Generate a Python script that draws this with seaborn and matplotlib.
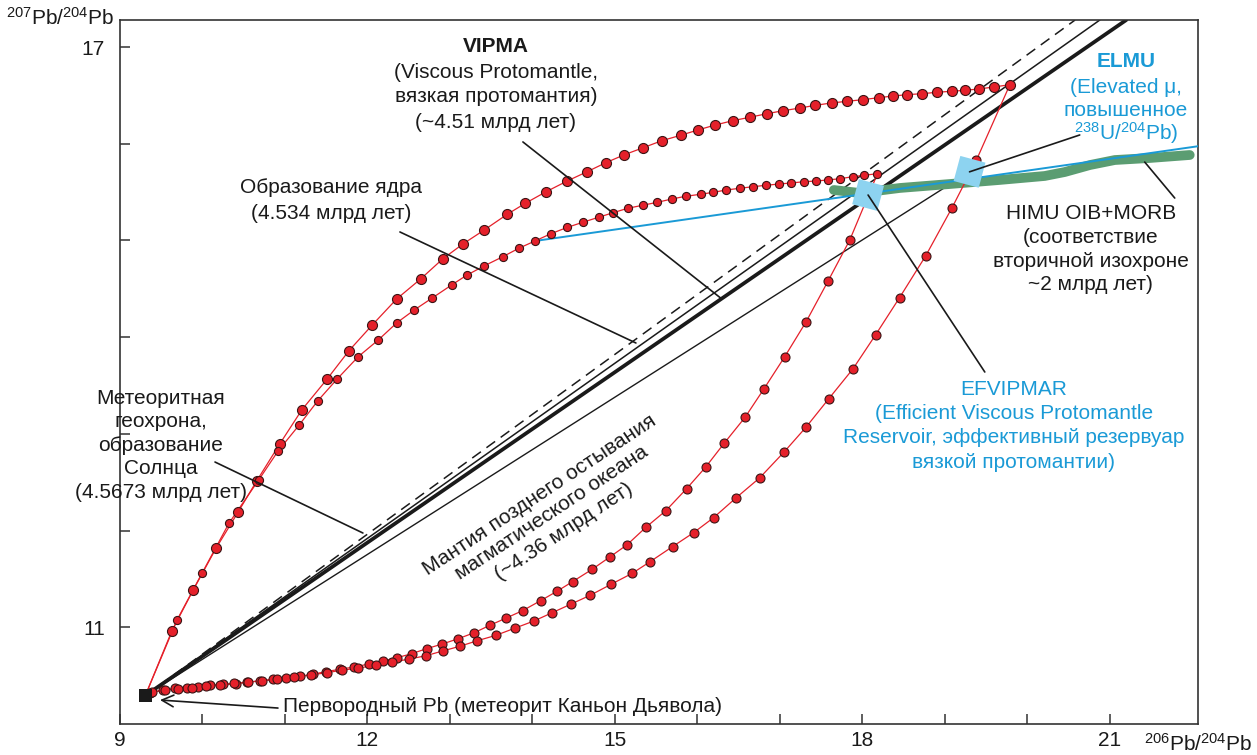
import numpy as np
import pandas as pd
import matplotlib
matplotlib.use("Agg")
import matplotlib.pyplot as plt
import seaborn as sns

# ---------------- data ----------------
prim_x, prim_y = 9.307, 10.294   # Canyon Diablo primordial Pb

# VIPMA growth curve (outer arc)
a_x = [9.307, 9.630, 9.888, 10.164, 10.430, 10.657, 10.939, 11.206, 11.509, 11.776, 12.055, 12.354,
       12.645, 12.912, 13.158, 13.417, 13.695, 13.915, 14.161, 14.422, 14.663, 14.892, 15.116, 15.345,
       15.570, 15.798, 16.008, 16.216, 16.430, 16.636, 16.842, 17.040, 17.246, 17.430, 17.628, 17.812,
       18.005, 18.201, 18.377, 18.543, 18.726, 18.910, 19.085, 19.246, 19.417, 19.592, 19.789]
a_y = [10.294, 10.965, 11.386, 11.817, 12.189, 12.513, 12.899, 13.250, 13.565, 13.860, 14.123, 14.395,
       14.602, 14.809, 14.964, 15.109, 15.271, 15.385, 15.502, 15.615, 15.711, 15.805, 15.887, 15.960,
       16.032, 16.088, 16.143, 16.194, 16.239, 16.274, 16.311, 16.342, 16.370, 16.398, 16.422, 16.439,
       16.456, 16.477, 16.494, 16.508, 16.518, 16.533, 16.543, 16.553, 16.567, 16.587, 16.611]

# inner arc
b_x = [9.307, 9.691, 9.998, 10.321, 10.681, 10.919, 11.170, 11.396, 11.630, 11.888, 12.131, 12.358,
       12.567, 12.785, 13.021, 13.202, 13.412, 13.641, 13.834, 14.032, 14.224, 14.425, 14.610, 14.802,
       14.982, 15.156, 15.336, 15.515, 15.691, 15.857, 16.040, 16.193, 16.349, 16.515, 16.673, 16.834,
       16.992, 17.139, 17.296, 17.439, 17.583, 17.731, 17.887, 18.022, 18.184]
b_y = [10.294, 11.075, 11.565, 12.076, 12.523, 12.826, 13.089, 13.340, 13.565, 13.798, 13.971, 14.150,
       14.281, 14.405, 14.540, 14.640, 14.736, 14.832, 14.919, 14.995, 15.070, 15.136, 15.188, 15.240,
       15.288, 15.333, 15.364, 15.395, 15.429, 15.457, 15.478, 15.498, 15.522, 15.540, 15.556, 15.571,
       15.584, 15.595, 15.608, 15.615, 15.626, 15.639, 15.660, 15.674, 15.691]

# lower curve returning from inner-arc end
c_x = [18.184, 17.848, 17.585, 17.319, 17.057, 16.806, 16.579, 16.325, 16.099, 15.869, 15.618, 15.376,
       15.149, 14.939, 14.725, 14.487, 14.297, 14.099, 13.881, 13.675, 13.485, 13.295, 13.101, 12.907,
       12.718, 12.536, 12.361, 12.192, 12.015, 11.836, 11.667, 11.493, 11.336, 11.182, 11.012, 10.858,
       10.697, 10.543, 10.406, 10.252, 10.091, 9.949, 9.808, 9.667, 9.525, 9.364, 9.307]
c_y = [15.691, 15.005, 14.581, 14.160, 13.795, 13.464, 13.172, 12.903, 12.655, 12.433, 12.206, 12.034,
       11.854, 11.727, 11.600, 11.472, 11.372, 11.275, 11.172, 11.093, 11.021, 10.944, 10.882, 10.827,
       10.779, 10.727, 10.686, 10.651, 10.620, 10.589, 10.566, 10.541, 10.514, 10.493, 10.479, 10.462,
       10.448, 10.431, 10.417, 10.411, 10.400, 10.386, 10.375, 10.369, 10.352, 10.324, 10.294]

# lower curve returning from outer-arc end
d_x = [19.789, 19.384, 19.088, 18.770, 18.451, 18.160, 17.888, 17.594, 17.319, 17.052, 16.754, 16.467,
       16.196, 15.954, 15.699, 15.421, 15.210, 14.955, 14.701, 14.463, 14.240, 14.018, 13.784, 13.558,
       13.331, 13.121, 12.912, 12.709, 12.507, 12.293, 12.103, 11.888, 11.687, 11.505, 11.315, 11.109,
       10.903, 10.721, 10.552, 10.382, 10.212, 10.042, 9.873, 9.703, 9.545, 9.388, 9.307]
d_y = [16.611, 15.832, 15.339, 14.843, 14.408, 14.023, 13.674, 13.364, 13.071, 12.813, 12.544, 12.337,
       12.133, 11.978, 11.834, 11.675, 11.558, 11.445, 11.331, 11.238, 11.151, 11.065, 10.990, 10.917,
       10.861, 10.804, 10.755, 10.706, 10.672, 10.638, 10.607, 10.579, 10.555, 10.531, 10.507, 10.486,
       10.465, 10.445, 10.434, 10.419, 10.403, 10.393, 10.377, 10.364, 10.350, 10.331, 10.294]

# isochrons from primordial Pb (end points)
geochron_end = (20.58, 17.28)   # 4.5673 Ga, dashed
core_end = (20.88, 17.28)       # 4.534 Ga
vipma_end = (21.20, 17.28)      # 4.51 Ga (thick)
lmo_end = (19.30, 15.71)        # 4.36 Ga

# ELMU secondary line
elmu_x = [14.032, 22.09]
elmu_y = [14.995, 15.977]

# HIMU OIB + MORB field
himu_x = [17.655, 17.970, 18.455, 19.061, 19.667, 20.212, 20.455, 20.758, 21.061, 21.485, 21.970]
himu_y = [15.522, 15.491, 15.543, 15.584, 15.626, 15.667, 15.708, 15.780, 15.832, 15.853, 15.884]

# EFVIPMAR points
efv_x = [18.07, 19.30]
efv_y = [15.47, 15.71]

x_ticks = list(range(10, 22))
x_labels_at = [9, 12, 15, 18, 21]
y_ticks = list(range(11, 18))
y_labels_at = [11, 17]

# ---------------- style ----------------
sns.set_theme(style="white")
plt.rcParams["font.family"] = ["Liberation Sans", "DejaVu Sans"]
plt.rcParams["mathtext.fontset"] = "custom"
plt.rcParams["mathtext.rm"] = "Liberation Sans"
plt.rcParams["mathtext.default"] = "regular"

RED = "#E5202A"
EDGE = "#3a1414"
BLUE = "#1A9AD6"
BLACK = "#1a1a1a"
FS = 15

fig = plt.figure(figsize=(12.57, 7.55), dpi=100)
ax = fig.add_axes([120 / 1257, 1 - 724 / 755, (1198 - 120) / 1257, (724 - 20) / 755])
ax.set_xlim(9, 22.07)
ax.set_ylim(10, 17.28)

# isochrons
def iso(end, **kw):
    sns.lineplot(x=[prim_x, end[0]], y=[prim_y, end[1]], ax=ax, sort=False, estimator=None, **kw)

iso(geochron_end, color=BLACK, lw=1.1, linestyle=(0, (7, 4.5)))
iso(core_end, color=BLACK, lw=1.1)
iso(vipma_end, color=BLACK, lw=2.7)
iso(lmo_end, color=BLACK, lw=1.0)

# HIMU field
sns.lineplot(x=himu_x, y=himu_y, ax=ax, sort=False, estimator=None, color="#5B9D72",
             lw=7, solid_capstyle="round", solid_joinstyle="round", zorder=3)
# ELMU line
sns.lineplot(x=elmu_x, y=elmu_y, ax=ax, sort=False, estimator=None, color=BLUE, lw=1.4, zorder=4)

# growth curves
for xs, ys in [(a_x, a_y), (b_x, b_y), (c_x, c_y), (d_x, d_y)]:
    sns.lineplot(x=xs, y=ys, ax=ax, sort=False, estimator=None, color=RED, lw=0.9, zorder=5)

sns.scatterplot(x=a_x[1:], y=a_y[1:], ax=ax, s=52, color=RED, edgecolor=EDGE, linewidth=0.8, zorder=6)
sns.scatterplot(x=b_x[1:], y=b_y[1:], ax=ax, s=34, color=RED, edgecolor=EDGE, linewidth=0.8, zorder=6)
sns.scatterplot(x=c_x[1:-1], y=c_y[1:-1], ax=ax, s=42, color=RED, edgecolor=EDGE, linewidth=0.8, zorder=6)
sns.scatterplot(x=d_x[1:-1], y=d_y[1:-1], ax=ax, s=42, color=RED, edgecolor=EDGE, linewidth=0.8, zorder=6)

# EFVIPMAR diamonds
sns.scatterplot(x=efv_x, y=efv_y, ax=ax, s=700, marker=(4, 0, 30), color="#8DD3F0",
                edgecolor="none", zorder=7)
# primordial
sns.scatterplot(x=[prim_x], y=[prim_y], ax=ax, s=90, marker="s", color=BLACK, edgecolor="none", zorder=8)

# ---------------- axes ----------------
ax.set_xticks([9] + x_ticks)
ax.set_xticklabels([str(t) if t in x_labels_at else "" for t in [9] + x_ticks])
ax.set_yticks(y_ticks)
ax.set_yticklabels([str(t) if t in y_labels_at else "" for t in y_ticks])
ax.tick_params(axis="both", direction="in", length=7, width=1.1, color="#333333",
               labelsize=15, labelcolor=BLACK, bottom=True, left=True, top=False, right=False)
ax.tick_params(axis="x", pad=5)
ax.tick_params(axis="y", pad=11)
for sp in ax.spines.values():
    sp.set_color("#333333")
    sp.set_linewidth(1.2)
ax.set_xlabel("")
ax.set_ylabel("")

fig.text(114 / 1257, 1 - 18 / 755, r"$^{207}$Pb/$^{204}$Pb", ha="right", va="center", fontsize=15, color=BLACK)
fig.text(1252 / 1257, 1 - 744 / 755, r"$^{206}$Pb/$^{204}$Pb", ha="right", va="center", fontsize=15, color=BLACK)

# ---------------- annotations ----------------
def lines(x, ys, texts, color=BLACK, bold_first=False):
    for i, (y, t) in enumerate(zip(ys, texts)):
        ax.text(x, y, t, ha="center", va="center", fontsize=FS, color=color,
                fontweight="bold" if (bold_first and i == 0) else "normal", zorder=9)

def leader(p0, p1):
    ax.annotate("", xy=p1, xytext=p0,
                arrowprops=dict(arrowstyle="-", lw=1.2, color=BLACK, shrinkA=0, shrinkB=0), zorder=9)

lines(13.558, [17.001, 16.742, 16.484, 16.225],
      ["VIPMA", "(Viscous Protomantle,", "вязкая протомантия)", "(~4.51 млрд лет)"], bold_first=True)
leader((13.885, 16.019), (16.297, 14.395))

lines(11.558, [15.543, 15.284], ["Образование ядра", "(4.534 млрд лет)"])
leader((12.394, 15.088), (15.255, 13.940))

lines(9.497, [13.371, 13.123, 12.885, 12.637, 12.389],
      ["Метеоритная", "геохрона,", "образование", "Солнца", "(4.5673 млрд лет)"])
leader((10.152, 12.709), (11.945, 11.975))

ax.text(14.23, 12.18, "Мантия позднего остывания\nмагматического океана\n(~4.36 млрд лет)",
        ha="center", va="center", rotation=33.5, rotation_mode="anchor", multialignment="center",
        fontsize=FS, color=BLACK, linespacing=1.2, zorder=9)

lines(21.194, [16.846, 16.587, 16.349, 16.112],
      ["ELMU", "(Elevated μ,", "повышенное", r"$^{238}$U/$^{204}$Pb)"], color=BLUE, bold_first=True)
leader((20.636, 16.091), (efv_x[1], efv_y[1]))

lines(20.770, [15.284, 15.026, 14.778, 14.540],
      ["HIMU OIB+MORB", "(соответствие", "вторичной изохроне", "~2 млрд лет)"])
leader((21.788, 15.439), (21.424, 15.811))

lines(19.836, [13.454, 13.206, 12.958, 12.709],
      ["EFVIPMAR", "(Efficient Viscous Protomantle", "Reservoir, эффективный резервуар",
       "вязкой протомантии)"], color=BLUE)
leader((19.485, 13.640), (efv_x[0], efv_y[0]))

ax.text(10.976, 10.186, "Первородный Pb (метеорит Каньон Дьявола)", ha="left", va="center",
        fontsize=FS, color=BLACK, zorder=9)
ax.annotate("", xy=(9.485, 10.248), xytext=(10.915, 10.165),
            arrowprops=dict(arrowstyle="->,head_length=0.7,head_width=0.35", lw=1.2, color=BLACK,
                            shrinkA=0, shrinkB=0), zorder=9)

fig.savefig("out.png", dpi=100)
